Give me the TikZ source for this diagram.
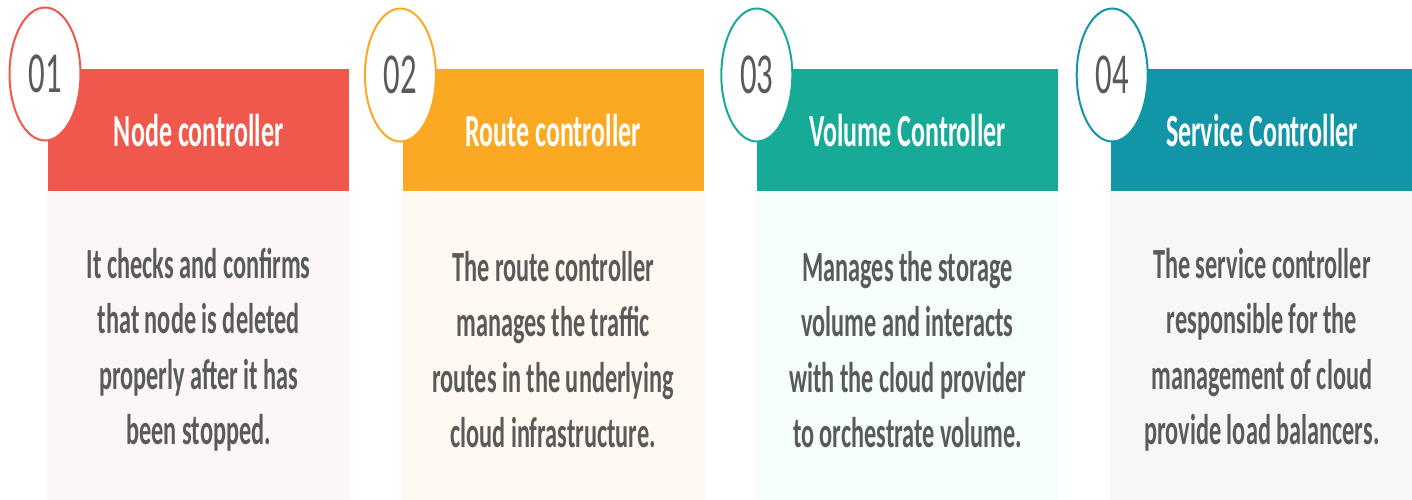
\documentclass[tikz,border=0pt]{standalone}
\usepackage{fontspec}
\setmainfont{Carlito}[FakeStretch=0.565]
\usetikzlibrary{positioning}
\usetikzlibrary{shapes.geometric}

\definecolor{nodered}{HTML}{EF584A}
\definecolor{routeorange}{HTML}{FBA923}
\definecolor{volumegreen}{HTML}{17AA96}
\definecolor{serviceblue}{HTML}{1395A8}
\definecolor{nodebg}{HTML}{FCF6F6}
\definecolor{routebg}{HTML}{FFF9F2}
\definecolor{volumebg}{HTML}{F6FDFD}
\definecolor{servicebg}{HTML}{F6F7F9}
\definecolor{txtgray}{HTML}{5A5A5A}

\begin{document}
\begin{tikzpicture}[x=1pt,y=-1pt]
		\tikzset{head/.style = {anchor=north west, inner sep=0, minimum width=301, minimum height=122,
				text=white, font=\fontsize{46}{50}\selectfont\bfseries},
			body/.style = {inner sep=0, minimum width=303, minimum height=316, align=center,
				text=txtgray, font=\fontsize{43}{55.5}\selectfont\bfseries},
			num/.style = {ellipse, draw, line width=2pt, fill=white, minimum width=71, minimum height=133,
				inner sep=0, text=txtgray, font=\fontsize{58}{58}\selectfont}}
		\useasboundingbox (0,0) rectangle (1412,500);
		\node[head, fill=nodered] (A) at (48,69) {Node controller};
		\node[head, fill=routeorange, right=53pt of A] (B) {Route controller};
		\node[head, fill=volumegreen, right=53pt of B] (C) {Volume Controller};
		\node[head, fill=serviceblue, right=53pt of C] (D) {Service Controller};
		\node[body, fill=nodebg, below=0pt of A] (a) {It checks and confirms\\that node is deleted\\properly after it has\\been stopped.};
		\node[body, fill=routebg, below=0pt of B] (b) {The route controller\\manages the traffic\\routes in the underlying\\cloud infrastructure.};
		\node[body, fill=volumebg, below=0pt of C] (c) {Manages the storage\\volume and interacts\\with the cloud provider\\to orchestrate volume.};
		\node[body, fill=servicebg, below=0pt of D] (d) {The service controller\\responsible for the\\management of cloud\\provide load balancers.};
		\node[num, draw=nodered] (n1) at ([xshift=-3pt,yshift=-5pt]A.north west) {01};
		\node[num, draw=routeorange] (n2) at ([xshift=-2pt,yshift=-6pt]B.north west) {02};
		\node[num, draw=volumegreen] (n3) at ([xshift=0pt,yshift=-6pt]C.north west) {03};
		\node[num, draw=serviceblue] (n4) at ([xshift=1pt,yshift=-6pt]D.north west) {04};
	\end{tikzpicture}
\end{document}
